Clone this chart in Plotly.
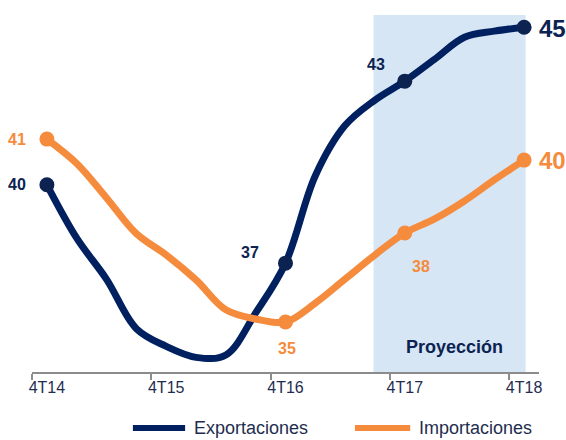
import plotly.graph_objects as go

quarters = ["4T14", "1T15", "2T15", "3T15", "4T15", "1T16", "2T16", "3T16", "4T16",
            "1T17", "2T17", "3T17", "4T17", "1T18", "2T18", "3T18", "4T18"]
exportaciones = [39.5, 37.75, 36.4, 34.78, 34.2, 33.84, 33.92, 35.3, 36.93,
                 39.8, 41.45, 42.28, 42.9, 43.62, 44.34, 44.54, 44.67]
importaciones = [41.0, 40.2, 39.07, 37.9, 37.2, 36.38, 35.4, 35.1, 35.0,
                 35.62, 36.41, 37.2, 37.92, 38.38, 38.97, 39.66, 40.31]
tick_labels = ["4T14", "4T15", "4T16", "4T17", "4T18"]
marker_idx = [0, 8, 12, 16]
exp_labels = ["40", "37", "43", "45"]
imp_labels = ["41", "35", "38", "40"]
series_names = ["Exportaciones", "Importaciones"]

NAVY = "#002060"
NAVY_M = "#0c2352"
ORANGE = "#F58B3C"
TEXT = "#1f2d4f"
FONT = "Liberation Sans"

x = list(range(len(quarters)))
tick_pos = [quarters.index(t) for t in tick_labels]

fig = go.Figure()
fig.add_shape(type="rect", xref="x", yref="y", x0=10.95, x1=16.05, y0=33.36, y1=45.07,
              fillcolor="#D6E6F5", line_width=0, layer="below")

fig.add_trace(go.Scatter(x=x, y=exportaciones, mode="lines", name=series_names[0], showlegend=False,
                         line=dict(color=NAVY, width=7, shape="spline", smoothing=1.0)))
fig.add_trace(go.Scatter(x=x, y=importaciones, mode="lines", name=series_names[1], showlegend=False,
                         line=dict(color=ORANGE, width=7, shape="spline", smoothing=1.0)))
fig.add_trace(go.Scatter(x=[x[i] for i in marker_idx], y=[exportaciones[i] for i in marker_idx],
                         mode="markers", showlegend=False,
                         marker=dict(color=NAVY_M, size=15)))
fig.add_trace(go.Scatter(x=[x[i] for i in marker_idx], y=[importaciones[i] for i in marker_idx],
                         mode="markers", showlegend=False,
                         marker=dict(color=ORANGE, size=15)))

# data labels
exp_offsets = [(-30, 0, 16), (-36, -11, 16), (-29, -17, 16), (28, 1, 24)]
imp_offsets = [(-30, 0, 16), (1, 26, 16), (16, 34, 16), (28, 0, 24)]
for k, i in enumerate(marker_idx):
    dx, dy, fs = exp_offsets[k]
    fig.add_annotation(x=x[i], y=exportaciones[i], text=f"<b>{exp_labels[k]}</b>", showarrow=False,
                       xshift=dx, yshift=-dy, font=dict(color=NAVY_M, size=fs, family=FONT))
    dx, dy, fs = imp_offsets[k]
    fig.add_annotation(x=x[i], y=importaciones[i], text=f"<b>{imp_labels[k]}</b>", showarrow=False,
                       xshift=dx, yshift=-dy, font=dict(color=ORANGE, size=fs, family=FONT))

fig.add_annotation(x=13.65, y=33.36, yanchor="middle", yshift=25, text="<b>Proyección</b>",
                   showarrow=False, font=dict(color=NAVY_M, size=18, family=FONT))

# legend (drawn in paper coordinates)
leg = [(series_names[0], NAVY, 0.199, 0.302, 0.3156), (series_names[1], ORANGE, 0.637, 0.746, 0.7594)]
for name, col, lx0, lx1, tx in leg:
    fig.add_shape(type="line", xref="paper", yref="paper", x0=lx0, x1=lx1, y0=-0.157, y1=-0.157,
                  line=dict(color=col, width=6))
    fig.add_annotation(xref="paper", yref="paper", x=tx, y=-0.157, xanchor="left", yanchor="middle",
                       text=name, showarrow=False, font=dict(color=TEXT, size=18, family=FONT))

fig.update_layout(
    width=566, height=440,
    margin=dict(l=32, r=27, t=15, b=68, autoexpand=False),
    plot_bgcolor="white", paper_bgcolor="white",
    font=dict(family=FONT, color=TEXT, size=14),
    showlegend=False,
    xaxis=dict(range=[-0.5, 16.5], tickmode="array", tickvals=tick_pos, ticktext=tick_labels,
               ticks="", showgrid=False, zeroline=False, showline=True, linecolor="#8c8c8c",
               linewidth=1.5, tickfont=dict(size=16, color=TEXT),
               minor=dict(tickmode="linear", tick0=-0.5, dtick=4, ticks="outside", ticklen=6,
                          tickcolor="#8c8c8c", tickwidth=1.5, showgrid=False)),
    yaxis=dict(range=[33.36, 45.07], visible=False, showgrid=False, zeroline=False),
)

fig.write_html("out.html", config={"displayModeBar": False},
               post_script="document.body.style.margin='0';document.body.style.overflow='hidden';")
